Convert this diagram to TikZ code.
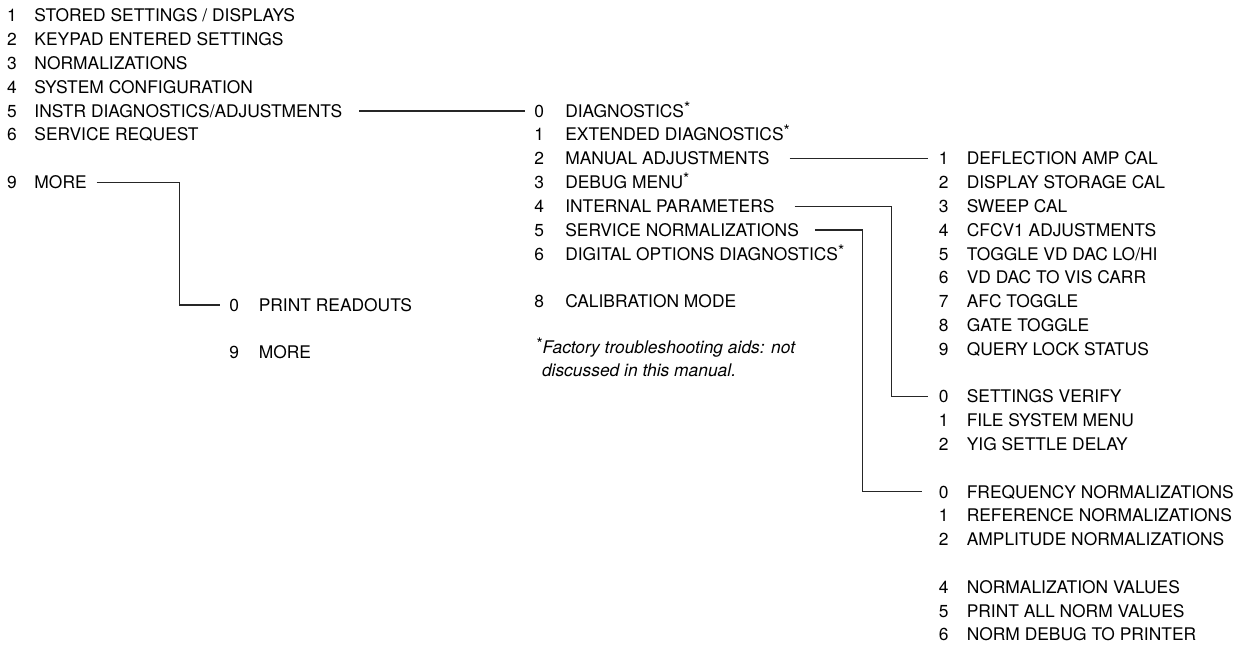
\documentclass[tikz,border=0pt]{standalone}
\usepackage{fontspec}
\setmainfont{TeX Gyre Heros}
\begin{document}
\begin{tikzpicture}[x=1pt,y=-1pt,
  item/.style={inner sep=0pt,outer sep=0pt,anchor=base west,font=\fontsize{17.4}{20}\selectfont},
  note/.style={item,font=\fontsize{17.4}{20}\selectfont\itshape},
  conn/.style={line width=1.3pt,draw=black!85}]
\useasboundingbox (0,0) rectangle (1242,650);
\newcommand{\nA}[1]{\makebox[27.5pt][l]{#1}}
\newcommand{\nB}[1]{\makebox[31pt][l]{#1}}
\newcommand{\nC}[1]{\makebox[28pt][l]{#1}}
\newcommand{\nP}[1]{\makebox[29.5pt][l]{#1}}
\newcommand{\myast}{\raisebox{4pt}{\fontsize{16}{16}\selectfont\upshape *}}
% column 1
\node[item] (a0) at (7,22.0) {\nA{1}STORED SETTINGS / DISPLAYS};
\node[item] (a1) at (7,45.8) {\nA{2}KEYPAD ENTERED SETTINGS};
\node[item] (a2) at (7,69.6) {\nA{3}NORMALIZATIONS};
\node[item] (a3) at (7,93.4) {\nA{4}SYSTEM CONFIGURATION};
\node[item] (a4) at (7,117.2) {\nA{5}INSTR DIAGNOSTICS/ADJUSTMENTS};
\node[item] (a5) at (7,141.0) {\nA{6}SERVICE REQUEST};
\node[item] (a7) at (7,188.6) {\nA{9}MORE};
% print readouts
\node[item] (p0) at (229.3,311.2) {\nP{0}PRINT READOUTS};
\node[item] (p9) at (229.3,358.6) {\nP{9}MORE};
% column 2
\node[item] (b0) at (534.3,117.2) {\nB{0}DIAGNOSTICS\myast};
\node[item] (b1) at (534.3,141.0) {\nB{1}EXTENDED DIAGNOSTICS\myast};
\node[item] (b2) at (534.3,164.8) {\nB{2}MANUAL ADJUSTMENTS};
\node[item] (b3) at (534.3,188.6) {\nB{3}DEBUG MENU\myast};
\node[item] (b4) at (534.3,212.4) {\nB{4}INTERNAL PARAMETERS};
\node[item] (b5) at (534.3,236.2) {\nB{5}SERVICE NORMALIZATIONS};
\node[item] (b6) at (534.3,260.0) {\nB{6}DIGITAL OPTIONS DIAGNOSTICS\myast};
\node[item] (b8) at (534.3,307.6) {\nB{8}CALIBRATION MODE};
\node[note] (f1) at (536.5,353.0) {\myast Factory troubleshooting aids: not};
\node[note] (f2) at (542.0,376.0) {discussed in this manual.};
% column 3
\node[item] (c0) at (938.8,164.8) {\nC{1}DEFLECTION AMP CAL};
\node[item] (c1) at (938.8,188.6) {\nC{2}DISPLAY STORAGE CAL};
\node[item] (c2) at (938.8,212.4) {\nC{3}SWEEP CAL};
\node[item] (c3) at (938.8,236.2) {\nC{4}CFCV1 ADJUSTMENTS};
\node[item] (c4) at (938.8,260.0) {\nC{5}TOGGLE VD DAC LO/HI};
\node[item] (c5) at (938.8,283.8) {\nC{6}VD DAC TO VIS CARR};
\node[item] (c6) at (938.8,307.6) {\nC{7}AFC TOGGLE};
\node[item] (c7) at (938.8,331.4) {\nC{8}GATE TOGGLE};
\node[item] (c8) at (938.8,355.2) {\nC{9}QUERY LOCK STATUS};
\node[item] (c10) at (938.8,402.8) {\nC{0}SETTINGS VERIFY};
\node[item] (c11) at (938.8,426.6) {\nC{1}FILE SYSTEM MENU};
\node[item] (c12) at (938.8,450.4) {\nC{2}YIG SETTLE DELAY};
\node[item] (c14) at (938.8,498.0) {\nC{0}FREQUENCY NORMALIZATIONS};
\node[item] (c15) at (938.8,521.8) {\nC{1}REFERENCE NORMALIZATIONS};
\node[item] (c16) at (938.8,545.6) {\nC{2}AMPLITUDE NORMALIZATIONS};
\node[item] (c18) at (938.8,593.2) {\nC{4}NORMALIZATION VALUES};
\node[item] (c19) at (938.8,617.0) {\nC{5}PRINT ALL NORM VALUES};
\node[item] (c20) at (938.8,640.8) {\nC{6}NORM DEBUG TO PRINTER};
% connectors
\draw[conn] ([shift={(17,-6.2)}]a4.base east) -- ([shift={(-9.5,-6.2)}]b0.base west);
\draw[conn] ([shift={(10,-6.2)}]a7.base east) -- ++(83,0) |- ([shift={(-9.5,-6.2)}]p0.base west);
\draw[conn] ([shift={(20,-6.2)}]b2.base east) -- ([shift={(-10.5,-6.2)}]c0.base west);
\draw[conn] ([shift={(20,-6.2)}]b4.base east) -- ++(97,0) |- ([shift={(-10.5,-6.2)}]c10.base west);
\draw[conn] ([shift={(16,-6.2)}]b5.base east) -- ++(47.7,0) |- ([shift={(-17,-6.2)}]c14.base west);
\end{tikzpicture}
\end{document}
